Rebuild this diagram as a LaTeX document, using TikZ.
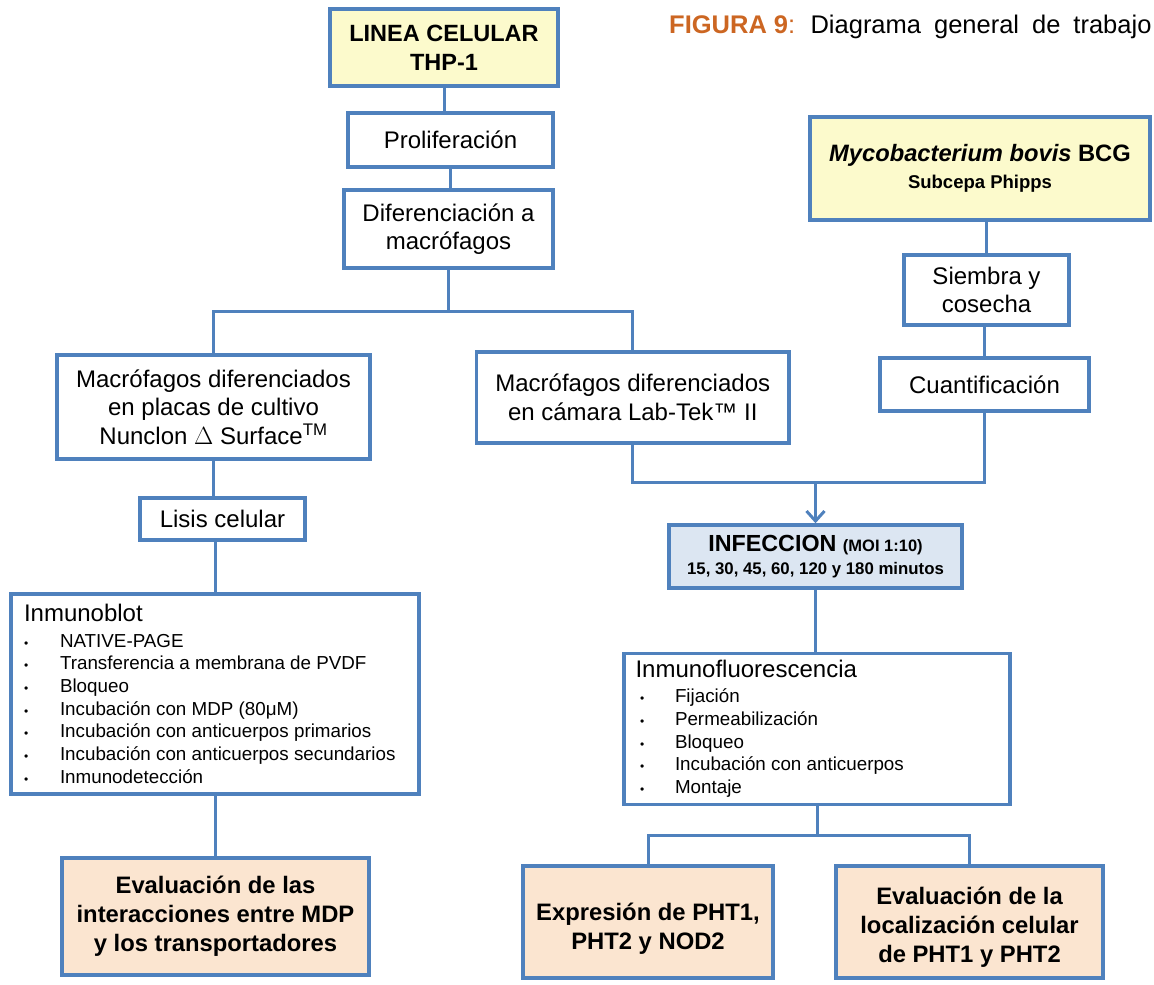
\documentclass[tikz,border=0pt]{standalone}
\usepackage{fontspec}
\setmainfont{Liberation Sans}
\usetikzlibrary{arrows.meta}
\definecolor{bblue}{RGB}{79,129,189}
\definecolor{byel}{RGB}{252,250,204}
\definecolor{bora}{RGB}{251,229,208}
\definecolor{binf}{RGB}{220,230,242}
\definecolor{tcol}{RGB}{204,102,34}
\newcommand{\bulA}{\makebox[36pt][l]{\fontsize{12}{12}\selectfont\textbullet}}
\newcommand{\bulB}{\makebox[35pt][l]{\fontsize{12}{12}\selectfont\textbullet}}
\begin{document}
\begin{tikzpicture}[x=1pt,y=-1pt,
  bx/.style={draw=bblue, line width=3.5pt, fill=white, inner sep=0pt, align=center,
    font=\fontsize{24}{28.5}\selectfont},
  yel/.style={bx, fill=byel},
  ora/.style={bx, fill=bora, font=\bfseries\fontsize{23.8}{29}\selectfont},
  inf/.style={bx, fill=binf},
  lst/.style={bx, align=flush left, font=\fontsize{18.8}{22.7}\selectfont},
  conn/.style={draw=bblue, line width=3pt},
  arr/.style={-{Straight Barb[length=10pt,width=18pt]}}]
\useasboundingbox (0,0) rectangle (1154,985);

% title
\node[anchor=base west, inner sep=0pt, font=\fontsize{25.5}{30}\selectfont] (title) at (669,33)
  {\spaceskip=13pt\relax\textcolor{tcol}{\textbf{FIGURA\hspace{7pt}9}:} Diagrama general de trabajo};

% left column
\node[yel, minimum width=228pt, minimum height=77pt, font=\bfseries\fontsize{23.5}{29}\selectfont] (thp) at (444,47.5) {LINEA CELULAR\\THP-1};
\node[bx, minimum width=205pt, minimum height=54pt] (prolif) at (450.5,140) {Proliferación};
\node[bx, minimum width=209pt, minimum height=78pt] (dif) at (448.5,229) {Diferenciación a\\macrófagos};
\node[bx, minimum width=313pt, minimum height=104pt] (macL) at (213.5,407) {Macrófagos diferenciados\\en placas de cultivo\\Nunclon $\Delta$ Surface\textsuperscript{TM}};
\node[bx, minimum width=312.5pt, minimum height=91pt] (macR) at (632.75,397.5) {Macrófagos diferenciados\\en cámara Lab-Tek™ II};
\node[bx, minimum width=165pt, minimum height=42pt] (lisis) at (222.5,519) {Lisis celular};
\node[lst, minimum width=408pt, minimum height=200pt, text width=382pt] (blot) at (215,694)
 {{\fontsize{24}{22.7}\selectfont Inmunoblot}\\[2.4pt]
  \bulA NATIVE-PAGE\\
  \bulA Transferencia a membrana de PVDF\\
  \bulA Bloqueo\\
  \bulA Incubación con MDP (80μM)\\
  \bulA Incubación con anticuerpos primarios\\
  \bulA Incubación con anticuerpos secundarios\\
  \bulA Inmunodetección\par};
\node[ora, minimum width=307pt, minimum height=117pt] (evalL) at (215.5,916.5) {Evaluación de las\\interacciones entre MDP\\y los transportadores};

% right column
\node[yel, minimum width=340pt, minimum height=103pt] (myco) at (980,168.5)
 {{\bfseries\fontsize{23.7}{26}\selectfont\textit{Mycobacterium bovis} BCG}\\[-1pt]
  {\bfseries\fontsize{18.5}{22}\selectfont Subcepa Phipps}};
\node[bx, minimum width=165pt, minimum height=70pt] (siembra) at (986.5,290) {Siembra y\\cosecha};
\node[bx, minimum width=209pt, minimum height=53pt] (cuant) at (984.5,384.5) {Cuantificación};
\node[inf, minimum width=293pt, minimum height=63pt] (infec) at (815.5,556.5)
 {{\bfseries\fontsize{23.3}{24}\selectfont INFECCION {\fontsize{16.5}{24}\selectfont (MOI 1:10)}}\\[-5pt]
  {\bfseries\fontsize{16.8}{20}\selectfont 15, 30, 45, 60, 120 y 180 minutos}};
\node[lst, minimum width=386pt, minimum height=151pt, text width=363pt] (flu) at (817,729)
 {{\fontsize{24}{22.7}\selectfont Inmunofluorescencia}\\[2.2pt]
  \hspace*{4.5pt}\bulB Fijación\\
  \hspace*{4.5pt}\bulB Permeabilización\\
  \hspace*{4.5pt}\bulB Bloqueo\\
  \hspace*{4.5pt}\bulB Incubación con anticuerpos\\
  \hspace*{4.5pt}\bulB Montaje\par};
\node[ora, minimum width=250pt, minimum height=112pt] (expr) at (648,922) {\rule{0pt}{30pt}Expresión de PHT1,\\PHT2 y NOD2};
\node[ora, minimum width=267pt, minimum height=112pt] (evalR) at (969.5,922) {\rule{0pt}{27pt}Evaluación de la\\localización celular\\de PHT1 y PHT2};

% connectors
\coordinate (j1y) at (0,311);
\coordinate (j2y) at (0,482);
\coordinate (j3y) at (0,835);
\draw[conn] (thp.south) -- (thp.south |- prolif.north);
\draw[conn] (prolif.south) -- (prolif.south |- dif.north);
\draw[conn] (dif.south) -- (dif.south |- j1y) coordinate (j1);
\draw[conn] (macL.north) |- (j1) -| (macR.north);
\draw[conn] (macL.south) -- (macL.south |- lisis.north);
\draw[conn] (blot.north) -- (blot.north |- lisis.south);
\draw[conn] (blot.south) -- (blot.south |- evalL.north);
\draw[conn] (siembra.north) -- (siembra.north |- myco.south);
\draw[conn] (cuant.north) -- (cuant.north |- siembra.south);
\draw[conn] (macR.south) |- (cuant.south |- j2y) -- (cuant.south);
\draw[conn, arr] (infec.north |- j2y) -- (infec.north);
\draw[conn] (infec.south) -- (infec.south |- flu.north);
\draw[conn] (flu.south) -- (flu.south |- j3y) coordinate (j3);
\draw[conn] (expr.north) |- (j3) -| (evalR.north);
\end{tikzpicture}
\end{document}
